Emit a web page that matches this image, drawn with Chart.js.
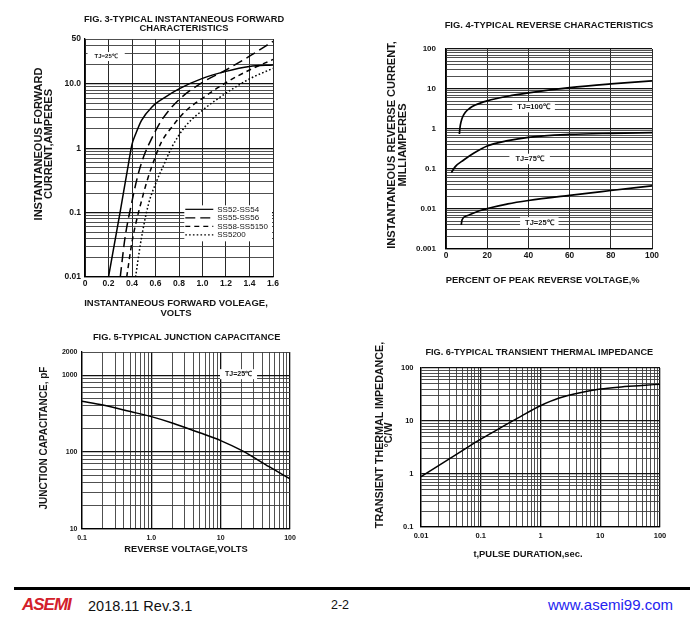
<!DOCTYPE html>
<html>
<head>
<meta charset="utf-8">
<title>SS52 - SS5200 typical characteristics</title>
<script src="https://cdn.jsdelivr.net/npm/chart.js@4.4.1/dist/chart.umd.min.js"></script>
<style>
  body { margin: 0; background: #fff; font-family: "Liberation Sans", Arial, sans-serif; }
  #page { position: relative; width: 700px; height: 629px; overflow: hidden; background: #fff; }
  canvas { position: absolute; }
  .t { position: absolute; white-space: nowrap; font-weight: bold; text-align: center; color: #151515;
       transform: translate(-50%, -50%); }
  .rot { transform: translate(-50%, -50%) rotate(-90deg); }
  .foot { position: absolute; white-space: nowrap; transform: translateY(-50%); }
</style>
</head>
<body>
<div id="page">
  <canvas id="fig3" width="285" height="300" style="left:0px;top:0px"></canvas>
  <canvas id="fig4" width="284" height="275" style="left:380px;top:0px"></canvas>
  <canvas id="fig5" width="282" height="220" style="left:20px;top:330px"></canvas>
  <canvas id="fig6" width="302" height="220" style="left:370px;top:330px"></canvas>

  <div class="t" style="left:184px;top:23.5px;font-size:9.3px;line-height:9px">FIG. 3-TYPICAL INSTANTANEOUS FORWARD<br>CHARACTERISTICS</div>
  <div class="t rot" style="left:42.7px;top:144px;font-size:11px;line-height:9.5px">INSTANTANEOUS FORWARD<br>CURRENT,AMPERES</div>
  <div class="t" style="left:176px;top:308px;font-size:9.5px;line-height:10px">INSTANTANEOUS FORWARD VOLEAGE,<br>VOLTS</div>

  <div class="t" style="left:549px;top:24px;font-size:9.4px">FIG. 4-TYPICAL REVERSE CHARACTERISTICS</div>
  <div class="t rot" style="left:397px;top:145px;font-size:11px;line-height:10.6px">INSTANTANEOUS REVERSE CURRENT,<br>MILLIAMPERES</div>
  <div class="t" style="left:542.7px;top:279px;font-size:9.4px">PERCENT OF PEAK REVERSE VOLTAGE,%</div>

  <div class="t" style="left:186.7px;top:337.3px;font-size:9.3px">FIG. 5-TYPICAL JUNCTION CAPACITANCE</div>
  <div class="t rot" style="left:43.3px;top:438px;font-size:10px">JUNCTION CAPACITANCE, pF</div>
  <div class="t" style="left:186px;top:549.3px;font-size:9.3px">REVERSE VOLTAGE,VOLTS</div>

  <div class="t" style="left:539.3px;top:351.7px;font-size:9.2px">FIG. 6-TYPICAL TRANSIENT THERMAL IMPEDANCE</div>
  <div class="t rot" style="left:383.7px;top:435px;font-size:10.7px;line-height:9px">TRANSIENT THERMAL IMPEDANCE,<br>°C/W</div>
  <div class="t" style="left:528px;top:553.3px;font-size:9.4px">t,PULSE DURATION,sec.</div>

  <div style="position:absolute;left:14px;top:587px;width:676px;height:3px;background:#000"></div>
  <div class="foot" style="left:22px;top:605px;font-size:17px;font-weight:bold;font-style:italic;color:#d3202a;letter-spacing:-1px">ASEMI</div>
  <div class="foot" style="left:88px;top:606px;font-size:14.5px;color:#111">2018.11 Rev.3.1</div>
  <div class="foot" style="left:331px;top:605px;font-size:12.5px;color:#111">2-2</div>
  <div class="foot" style="left:548px;top:604px;font-size:15px;color:#2323f0">www.asemi99.com</div>
</div>

<script>
// Fig. 3 - forward characteristics (V, A)
const ss52Volts = [0.20, 0.30, 0.36, 0.40, 0.43, 0.48, 0.57, 0.68, 0.80, 1.0, 1.2, 1.4, 1.6];
const ss52Amps  = [0.01, 0.105, 0.45, 1.15, 1.65, 2.7, 4.4, 6.2, 8.4, 12.2, 15.7, 18.7, 19.8];
const ss55Volts = [0.30, 0.34, 0.40, 0.45, 0.50, 0.57, 0.65, 0.80, 1.0, 1.2, 1.4, 1.6];
const ss55Amps  = [0.01, 0.04, 0.15, 0.38, 0.75, 1.45, 2.7, 5.7, 10.6, 16.5, 27, 46];
const ss58Volts = [0.355, 0.40, 0.43, 0.48, 0.53, 0.60, 0.65, 0.74, 0.85, 1.0, 1.2, 1.4, 1.6];
const ss58Amps  = [0.01, 0.035, 0.065, 0.15, 0.32, 0.75, 1.25, 2.15, 3.7, 6.0, 10.5, 16.5, 24];
const ss5200Volts = [0.43, 0.48, 0.54, 0.60, 0.67, 0.74, 0.85, 1.0, 1.2, 1.4, 1.6];
const ss5200Amps  = [0.01, 0.04, 0.135, 0.28, 0.55, 1.05, 2.15, 3.9, 7.2, 12, 17.5];
const fig3XTicks = [0, 0.2, 0.4, 0.6, 0.8, 1.0, 1.2, 1.4, 1.6];
const fig3XLabels = ['0', '0.2', '0.4', '0.6', '0.8', '1.0', '1.2', '1.4', '1.6'];
const fig3YTicks = [0.01, 0.1, 1, 10, 50];
const fig3YLabels = ['0.01', '0.1', '1', '10.0', '50'];

// Fig. 4 - reverse current (% of VRRM, mA)
const rev100Pct = [6.5, 6.8, 7.3, 8.1, 9.4, 11.5, 14.2, 20, 30, 40, 60, 80, 100];
const rev100mA  = [0.75, 1.09, 1.51, 2.02, 2.63, 3.3, 3.98, 5.06, 6.6, 8.0, 10.8, 13.4, 16];
const rev75Pct  = [2.6, 4.5, 8.6, 13.4, 20, 30, 40, 60, 80, 100];
const rev75mA   = [0.081, 0.115, 0.168, 0.247, 0.376, 0.51, 0.62, 0.73, 0.78, 0.81];
const rev25Pct  = [7.4, 7.8, 10.2, 16.7, 30, 40, 60, 80, 100];
const rev25mA   = [0.004, 0.0054, 0.0068, 0.0092, 0.0134, 0.0163, 0.022, 0.029, 0.038];
const fig4XTicks = [0, 20, 40, 60, 80, 100];
const fig4XLabels = ['0', '20', '40', '60', '80', '100'];
const fig4YTicks = [0.001, 0.01, 0.1, 1, 10, 100];
const fig4YLabels = ['0.001', '0.01', '0.1', '1', '10', '100'];

// Fig. 5 - junction capacitance (V, pF)
const capVolts = [0.1, 0.2, 0.5, 1, 2, 5, 10, 20, 50, 100];
const capPf    = [457, 409, 336, 289, 239, 178, 141, 105, 64.5, 44.7];
const fig5XTicks = [0.1, 1, 10, 100];
const fig5XLabels = ['0.1', '1.0', '10', '100'];
const fig5YTicks = [10, 100, 1000, 2000];
const fig5YLabels = ['10', '100', '1000', '2000'];

// Fig. 6 - transient thermal impedance (s, °C/W)
const pulseSec = [0.01, 0.02, 0.05, 0.1, 0.2, 0.5, 1, 2, 5, 10, 20, 50, 100];
const thermZ   = [0.89, 1.46, 2.8, 4.55, 7.1, 12.8, 19.4, 26.8, 34.8, 40, 43.5, 46.8, 49.5];
const fig6XTicks = [0.01, 0.1, 1, 10, 100];
const fig6XLabels = ['0.01', '0.1', '1', '10', '100'];
const fig6YTicks = [0.1, 1, 10, 100];
const fig6YLabels = ['0.1', '1', '10', '100'];

const FONT = '"Liberation Sans", Arial, sans-serif';

function pairs(xs, ys) {
  return xs.map((x, i) => ({ x: x, y: ys[i] }));
}

function isDecade(v) {
  if (!v) return false;
  const e = Math.log10(v);
  return Math.abs(e - Math.round(e)) < 1e-6;
}

// 1..9 x 10^n grid lines between min and max
function logGrid(scale) {
  const out = [];
  const lo = Math.floor(Math.log10(scale.min)), hi = Math.ceil(Math.log10(scale.max));
  for (let e = lo; e <= hi; e++) {
    for (let k = 1; k < 10; k++) {
      const v = +(k * Math.pow(10, e)).toPrecision(6);
      if (v >= scale.min * 0.9999 && v <= scale.max * 1.0001) out.push(v);
    }
  }
  if (out[out.length - 1] < scale.max * 0.9999) out.push(scale.max);
  scale.ticks = out.map(v => ({ value: v }));
}

function labelFor(ticks, labels) {
  return function(value) {
    const i = ticks.findIndex(t => Math.abs(t - value) <= Math.abs(t) * 1e-6 + 1e-9);
    return i >= 0 ? labels[i] : '';
  };
}

function axis(c) {
  const log = c.type === 'logarithmic';
  return {
    type: c.type,
    min: c.min,
    max: c.max,
    afterBuildTicks: log ? logGrid : function(scale) { scale.ticks = c.ticks.map(v => ({ value: v })); },
    afterFit: function(scale) {
      if (c.width) scale.width = c.width;
      if (c.height) scale.height = c.height;
    },
    grid: {
      drawTicks: false,
      color: ctx => (!log || isDecade(ctx.tick && ctx.tick.value)) ? '#111' : '#3c3c3c',
      lineWidth: ctx => (log && isDecade(ctx.tick && ctx.tick.value)) ? 1.3 : 0.9
    },
    border: { color: '#000', width: 1.3 },
    ticks: {
      autoSkip: false,
      maxRotation: 0,
      padding: c.pad,
      color: '#151515',
      font: { family: FONT, size: c.font, weight: 'bold' },
      callback: labelFor(c.ticks, c.labels)
    }
  };
}

// white boxed notes and the little legend of fig. 3
const notesPlugin = {
  id: 'notes',
  afterDatasetsDraw(chart, args, opts) {
    const ctx = chart.ctx, xs = chart.scales.x, ys = chart.scales.y;
    (opts.items || []).forEach(function(n) {
      const px = xs.getPixelForValue(n.x), py = ys.getPixelForValue(n.y);
      ctx.save();
      ctx.font = 'bold ' + n.size + 'px ' + FONT;
      const w = ctx.measureText(n.text).width + n.pad * 2, h = n.size + 3;
      ctx.fillStyle = '#fff';
      ctx.fillRect(px - w / 2, py - h / 2, w, h);
      ctx.fillStyle = '#151515';
      ctx.textAlign = 'center';
      ctx.textBaseline = 'middle';
      ctx.fillText(n.text, px, py);
      ctx.restore();
    });
    const lg = opts.legend;
    if (lg) {
      const left = xs.getPixelForValue(lg.x), top = ys.getPixelForValue(lg.y);
      const right = chart.chartArea.right;
      const sets = chart.data.datasets;
      ctx.save();
      ctx.fillStyle = '#fff';
      ctx.fillRect(left, top, right - left - 1, sets.length * lg.row + 2);
      ctx.font = lg.size + 'px ' + FONT;
      ctx.textBaseline = 'middle';
      sets.forEach(function(ds, i) {
        const y = top + 4 + i * lg.row;
        ctx.strokeStyle = '#000';
        ctx.lineWidth = 1.2;
        ctx.setLineDash(ds.borderDash || []);
        ctx.beginPath();
        ctx.moveTo(left + 1, y);
        ctx.lineTo(left + 1 + lg.sample, y);
        ctx.stroke();
        ctx.fillStyle = '#151515';
        ctx.fillText(ds.label, left + lg.sample + 5, y);
      });
      ctx.restore();
    }
  }
};

function curve(label, xs, ys, dash, width) {
  return {
    label: label,
    data: pairs(xs, ys),
    borderColor: '#000',
    borderWidth: width || 1.5,
    borderDash: dash || [],
    pointRadius: 0,
    fill: false,
    cubicInterpolationMode: 'monotone'
  };
}

function makeChart(id, datasets, pad, xAxis, yAxis, notes) {
  return new Chart(document.getElementById(id), {
    type: 'line',
    data: { datasets: datasets },
    options: {
      responsive: false,
      animation: false,
      layout: { padding: pad },
      scales: { x: axis(xAxis), y: axis(yAxis) },
      plugins: { legend: { display: false }, tooltip: { enabled: false }, notes: notes }
    },
    plugins: [notesPlugin]
  });
}

makeChart('fig3', [
    curve('SS52-SS54', ss52Volts, ss52Amps),
    curve('SS55-SS56', ss55Volts, ss55Amps, [10, 5]),
    curve('SS58-SS5150', ss58Volts, ss58Amps, [5, 4]),
    curve('SS5200', ss5200Volts, ss5200Amps, [1.6, 2.2])
  ],
  { top: 39, right: 12, left: 0, bottom: 0 },
  { type: 'linear', min: 0, max: 1.6, ticks: fig3XTicks, labels: fig3XLabels, height: 23, pad: 2, font: 8.5 },
  { type: 'logarithmic', min: 0.01, max: 50, ticks: fig3YTicks, labels: fig3YLabels, width: 85, pad: 4, font: 8.5 },
  { items: [{ text: 'TJ=25℃', x: 0.18, y: 26.7, size: 6, pad: 7 }],
    legend: { x: 0.845, y: 0.13, row: 8.5, sample: 28, size: 8 } });

makeChart('fig4', [
    curve('TJ=100℃', rev100Pct, rev100mA, null, 1.7),
    curve('TJ=75℃', rev75Pct, rev75mA, null, 1.7),
    curve('TJ=25℃', rev25Pct, rev25mA, null, 1.7)
  ],
  { top: 49, right: 12, left: 0, bottom: 0 },
  { type: 'linear', min: 0, max: 100, ticks: fig4XTicks, labels: fig4XLabels, height: 26, pad: 2, font: 8.4 },
  { type: 'logarithmic', min: 0.001, max: 100, ticks: fig4YTicks, labels: fig4YLabels, width: 66, pad: 10, font: 8 },
  { items: [
    { text: 'TJ=100℃', x: 42.5, y: 3.52, size: 7.5, pad: 5 },
    { text: 'TJ=75℃', x: 40.6, y: 0.178, size: 7.5, pad: 6 },
    { text: 'TJ=25℃', x: 45.3, y: 0.0046, size: 7.5, pad: 5 }
  ] });

makeChart('fig5', [curve('TJ=25℃', capVolts, capPf)],
  { top: 22, right: 12, left: 0, bottom: 0 },
  { type: 'logarithmic', min: 0.1, max: 100, ticks: fig5XTicks, labels: fig5XLabels, height: 21, pad: 4.5, font: 7 },
  { type: 'logarithmic', min: 10, max: 2000, ticks: fig5YTicks, labels: fig5YLabels, width: 62, pad: 4.5, font: 7 },
  { items: [{ text: 'TJ=25℃', x: 18.1, y: 1030, size: 7, pad: 5 }] });

makeChart('fig6', [curve('Zth', pulseSec, thermZ)],
  { top: 38, right: 12, left: 0, bottom: 0 },
  { type: 'logarithmic', min: 0.01, max: 100, ticks: fig6XTicks, labels: fig6XLabels, height: 23, pad: 4, font: 7.5 },
  { type: 'logarithmic', min: 0.1, max: 100, ticks: fig6YTicks, labels: fig6YLabels, width: 51, pad: 7.5, font: 7.5 },
  { items: [] });
</script>
</body>
</html>
